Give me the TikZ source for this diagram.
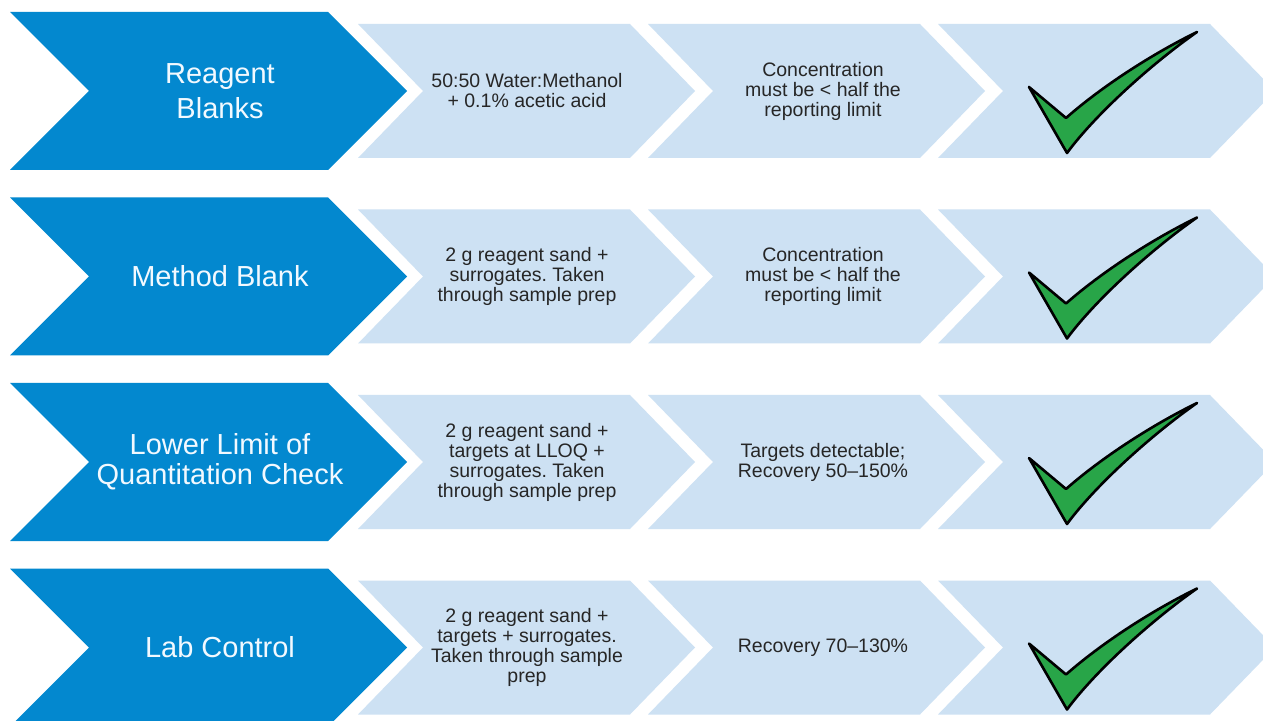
\documentclass[tikz,border=0pt]{standalone}
\usepackage{fontspec}
\setmainfont{Liberation Sans}
\frenchspacing
\definecolor{hdblue}{RGB}{3,136,207}
\definecolor{lightbl}{RGB}{205,225,243}
\definecolor{chkgreen}{RGB}{40,165,72}
\definecolor{txtgray}{RGB}{38,38,38}
\definecolor{hdtext}{RGB}{242,249,255}
\tikzset{
  headchev/.style={fill=hdblue, draw=none},
  bodychev/.style={fill=lightbl, draw=none},
  checkshape/.style={fill=chkgreen, draw=black, line width=1.3pt, line join=round},
  headtext/.style={align=center, text=hdtext, inner sep=0pt},
  bodytext/.style={align=center, text=txtgray, inner sep=0pt, font=\fontsize{9.75}{10}\selectfont},
}
\begin{document}
\begin{tikzpicture}[x=0.5pt,y=-0.5pt]
\useasboundingbox (0,0) rectangle (1263,721);
\clip (0,0) rectangle (1263,721);
\fill[white] (0,0) rectangle (1263,721);
\foreach \yc in {91,276.5,462,647.5}{
  \fill[headchev] (10,{\yc-79}) -- (328,{\yc-79}) -- (407,\yc) -- (328,{\yc+79}) -- (10,{\yc+79}) -- (89,\yc) -- cycle;
  \foreach \L in {358,648,938}{
    \fill[bodychev] (\L,{\yc-67}) -- ({\L+272},{\yc-67}) -- ({\L+337},\yc) -- ({\L+272},{\yc+67}) -- (\L,{\yc+67}) -- ({\L+65},\yc) -- cycle;
  }
  \begin{scope}[shift={(0,\yc-91)}]
    \draw[checkshape] (1029,87) -- (1066,118) .. controls (1100,88) and (1150,55) .. (1197,32) .. controls (1150,65) and (1095,115) .. (1067,153) -- cycle;
  \end{scope}
}
% row 1
\node[headtext, font=\fontsize{14.5}{17.5}\selectfont] (h1) at (220,91) {Reagent\\Blanks};
\node[bodytext] (a1) at (527,91) {50:50 Water:Methanol\\+ 0.1\% acetic acid};
\node[bodytext] (b1) at (823,91) {Concentration\\must be < half the\\reporting limit};
% row 2
\node[headtext, font=\fontsize{14.5}{17.5}\selectfont] (h2) at (220,276.5) {Method Blank};
\node[bodytext] (a2) at (527,276.5) {2 g reagent sand +\\surrogates. Taken\\through sample prep};
\node[bodytext] (b2) at (823,276.5) {Concentration\\must be < half the\\reporting limit};
% row 3
\node[headtext, font=\fontsize{14.5}{15}\selectfont] (h3) at (220,462) {Lower Limit of\\Quantitation Check};
\node[bodytext] (a3) at (527,462) {2 g reagent sand +\\targets at LLOQ +\\surrogates. Taken\\through sample prep};
\node[bodytext] (b3) at (823,462) {Targets detectable;\\Recovery 50–150\%};
% row 4
\node[headtext, font=\fontsize{14.5}{17.5}\selectfont] (h4) at (220,647.5) {Lab Control};
\node[bodytext] (a4) at (527,647.5) {2 g reagent sand +\\targets + surrogates.\\Taken through sample\\prep};
\node[bodytext] (b4) at (823,647.5) {Recovery 70–130\%};
\end{tikzpicture}
\end{document}
